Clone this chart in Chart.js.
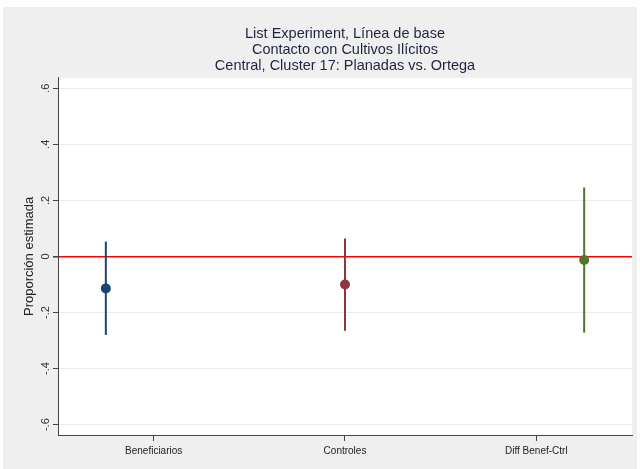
<!DOCTYPE html>
<html>
<head>
<meta charset="utf-8">
<script src="https://cdn.jsdelivr.net/npm/chart.js@4/dist/chart.umd.min.js"></script>
<style>
  html, body { margin: 0; padding: 0; background: #fff; }
</style>
</head>
<body>
<canvas id="chart" width="640" height="469"></canvas>
<script>
// categories and where their labels sit on the x axis
const groups = ['Beneficiarios', 'Controles', 'Diff Benef-Ctrl'];
const groupX = [1, 2, 3];
const labelX = [1.2, 2, 2.8];

// point estimates and confidence intervals
const estimates = [-0.114, -0.100, -0.013];
const lower = [-0.280, -0.265, -0.272];
const upper = [0.053, 0.064, 0.246];
const colors = ['#1a476f', '#90353b', '#55752f'];

const yTicks = [-0.6, -0.4, -0.2, 0, 0.2, 0.4, 0.6];

const fmt = (v) => {
  const r = Math.round(v * 10) / 10;
  if (r === 0) return '0';
  return (r < 0 ? '-' : '') + String(Math.abs(r)).replace(/^0/, '');
};

const background = {
  id: 'background',
  beforeDraw(chart) {
    const { ctx, chartArea: a } = chart;
    ctx.save();
    ctx.fillStyle = '#ffffff';
    ctx.fillRect(0, 0, chart.width, chart.height);
    ctx.fillStyle = '#efefef';
    ctx.fillRect(3, 7, chart.width - 6, chart.height - 7);
    ctx.fillStyle = '#ffffff';
    ctx.fillRect(a.left, a.top, a.right - a.left, a.bottom - a.top);
    ctx.restore();
  }
};

const errorBars = {
  id: 'errorBars',
  beforeDatasetsDraw(chart) {
    const { ctx, scales: { x, y } } = chart;
    ctx.save();
    ctx.lineWidth = 2;
    groupX.forEach((gx, i) => {
      const px = x.getPixelForValue(gx);
      ctx.strokeStyle = colors[i];
      ctx.beginPath();
      ctx.moveTo(px, y.getPixelForValue(lower[i]));
      ctx.lineTo(px, y.getPixelForValue(upper[i]));
      ctx.stroke();
    });
    ctx.restore();
  }
};

new Chart(document.getElementById('chart'), {
  type: 'scatter',
  data: {
    datasets: [{
      data: groupX.map((x, i) => ({ x: x, y: estimates[i] })),
      pointRadius: 5,
      pointBackgroundColor: colors,
      pointBorderColor: colors,
      pointBorderWidth: 0
    }]
  },
  options: {
    responsive: false,
    animation: false,
    devicePixelRatio: 1,
    layout: { padding: { left: 0, right: 8, top: 0, bottom: 0 } },
    plugins: {
      legend: { display: false },
      tooltip: { enabled: false },
      title: {
        display: true,
        fullSize: false,
        text: ['List Experiment, Línea de base', 'Contacto con Cultivos Ilícitos', 'Central, Cluster 17: Planadas vs. Ortega'],
        color: '#1e2440',
        font: { family: 'Liberation Sans, Arial, sans-serif', size: 14.5, weight: 'normal', lineHeight: 1.1 },
        padding: { top: 26, bottom: 4 }
      }
    },
    scales: {
      x: {
        type: 'linear',
        min: 0.8,
        max: 3.2,
        afterFit: (s) => { s.height = 34; },
        afterBuildTicks: (s) => { s.ticks = labelX.map((v) => ({ value: v })); },
        grid: { drawOnChartArea: false, tickLength: 6, tickColor: '#444' },
        border: { color: '#444', width: 1 },
        ticks: {
          autoSkip: false,
          maxRotation: 0,
          padding: 4,
          color: '#222',
          font: { family: 'Liberation Sans, Arial, sans-serif', size: 10 },
          callback: (v) => groups[labelX.indexOf(v)]
        }
      },
      y: {
        min: -0.637,
        max: 0.637,
        afterFit: (s) => { s.width = 58; },
        afterBuildTicks: (s) => { s.ticks = yTicks.map((v) => ({ value: v })); },
        grid: {
          tickLength: 5,
          tickColor: '#444',
          color: (c) => (c.tick && Math.abs(c.tick.value) < 1e-9 ? '#ff0000' : '#ececec'),
          lineWidth: (c) => (c.tick && Math.abs(c.tick.value) < 1e-9 ? 1.6 : 1)
        },
        border: { color: '#444', width: 1 },
        title: {
          display: true,
          text: 'Proporción estimada',
          color: '#222',
          font: { family: 'Liberation Sans, Arial, sans-serif', size: 13 },
          padding: { top: 22, bottom: 0 }
        },
        ticks: {
          minRotation: 90,
          maxRotation: 90,
          crossAlign: 'center',
          padding: 1,
          color: '#333',
          font: { family: 'Liberation Sans, Arial, sans-serif', size: 11 },
          callback: (v) => fmt(v)
        }
      }
    }
  },
  plugins: [background, errorBars]
});
</script>
</body>
</html>
